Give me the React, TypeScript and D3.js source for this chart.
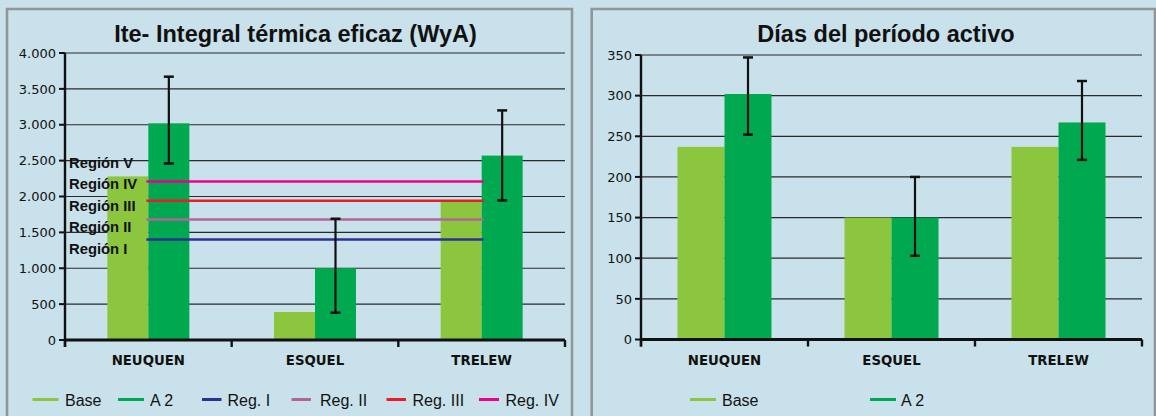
import React from "react";
import * as d3 from "d3";

// ---------- data ----------
const categories = ["NEUQUEN", "ESQUEL", "TRELEW"];
const seriesNames = ["Base", "A 2"];

// Left chart: Ite - Integral térmica eficaz (WyA)
const iteBase = [2280, 390, 1940];
const iteA2 = [3020, 1000, 2570];
const iteErrLow = [2460, 380, 1945];
const iteErrHigh = [3670, 1690, 3200];
const iteTicks = [0, 500, 1000, 1500, 2000, 2500, 3000, 3500, 4000];
const regionNames = ["Reg. I", "Reg. II", "Reg. III", "Reg. IV"];
const regionValues = [1400, 1680, 1940, 2210];
const regionLabels = ["Región V", "Región IV", "Región III", "Región II", "Región I"];
const regionLabelValues = [2400, 2110, 1800, 1500, 1200];

// Right chart: Días del período activo
const diasBase = [237, 150, 237];
const diasA2 = [302, 150, 267];
const diasErrLow = [252, 103, 221];
const diasErrHigh = [347, 200, 318];
const diasTicks = [0, 50, 100, 150, 200, 250, 300, 350];

// ---------- styles ----------
const BG = "#c8e1ea";
const BORDER = "#929697";
const C_BASE = "#8cc63f";
const C_A2 = "#00a94f";
const C_REG = ["#2e3192", "#b5649a", "#ed1c24", "#ec008c"];
const FONT = "'Liberation Sans', Arial, Helvetica, sans-serif";
const FONT_W = "'DejaVu Sans', Verdana, sans-serif";

type ChartProps = {
  title: string;
  titleX: number;
  x0: number;
  x1: number;
  y0: number;
  y1: number;
  maxV: number;
  ticks: number[];
  fmt: (v: number) => string;
  base: number[];
  a2: number[];
  errLow: number[];
  errHigh: number[];
  groupW: number;
  overlay?: (x: d3.ScaleBand<string>, y: d3.ScaleLinear<number, number>) => React.ReactNode;
};

function BarChart(p: ChartProps) {
  const x = d3.scaleBand<string>().domain(categories).range([p.x0, p.x1]).padding(0);
  const y = d3.scaleLinear().domain([0, p.maxV]).range([p.y0, p.y1]);
  const sub = d3.scaleBand<string>().domain(seriesNames).range([-p.groupW / 2, p.groupW / 2]).padding(0);
  const series = [p.base, p.a2];
  const colors = [C_BASE, C_A2];
  const boundaries = [...categories.map((c) => x(c) as number), p.x1];
  return (
    <g>
      <text x={p.titleX} y={41.5} textAnchor="middle" fontFamily={FONT} fontWeight="bold" fontSize={23.5} fill="#111">
        {p.title}
      </text>
      {p.ticks.filter((t) => t > 0).map((t) => (
        <line key={"g" + t} x1={p.x0} x2={p.x1} y1={y(t)} y2={y(t)} stroke="#2a2a2a" strokeWidth={1.2} />
      ))}
      {p.ticks.map((t) => (
        <g key={"t" + t}>
          <line x1={p.x0 - 6} x2={p.x0} y1={y(t)} y2={y(t)} stroke="#111" strokeWidth={2} />
          <text x={p.x0 - 9} y={y(t)} dy="0.36em" textAnchor="end" fontFamily={FONT_W} fontSize={13} fill="#111">
            {p.fmt(t)}
          </text>
        </g>
      ))}
      {categories.map((c, i) => {
        const cx = (x(c) as number) + x.bandwidth() / 2;
        return series.map((s, j) => (
          <rect
            key={c + j}
            x={cx + (sub(seriesNames[j]) as number)}
            width={sub.bandwidth()}
            y={y(s[i])}
            height={p.y0 - y(s[i])}
            fill={colors[j]}
          />
        ));
      })}
      {p.overlay ? p.overlay(x, y) : null}
      {categories.map((c, i) => {
        const cx = (x(c) as number) + x.bandwidth() / 2 + (sub("A 2") as number) + sub.bandwidth() / 2;
        return (
          <g key={"e" + c} stroke="#111">
            <line x1={cx} x2={cx} y1={y(p.errLow[i])} y2={y(p.errHigh[i])} strokeWidth={2.2} />
            <line x1={cx - 5} x2={cx + 5} y1={y(p.errLow[i])} y2={y(p.errLow[i])} strokeWidth={2.5} />
            <line x1={cx - 5} x2={cx + 5} y1={y(p.errHigh[i])} y2={y(p.errHigh[i])} strokeWidth={2.5} />
          </g>
        );
      })}
      <line x1={p.x0} x2={p.x0} y1={y(p.maxV)} y2={p.y0 + 7} stroke="#111" strokeWidth={2.4} />
      <line x1={p.x0} x2={p.x1} y1={p.y0} y2={p.y0} stroke="#111" strokeWidth={2.8} />
      {boundaries.map((b, i) => (
        <line key={"b" + i} x1={b} x2={b} y1={p.y0} y2={p.y0 + 7} stroke="#111" strokeWidth={2.4} />
      ))}
      {categories.map((c) => (
        <text
          key={"c" + c}
          x={(x(c) as number) + x.bandwidth() / 2}
          y={365}
          textAnchor="middle"
          fontFamily={FONT_W}
          fontWeight="bold"
          fontSize={13.3}
          fill="#111"
        >
          {c}
        </text>
      ))}
    </g>
  );
}

function regionOverlay(x: d3.ScaleBand<string>, y: d3.ScaleLinear<number, number>) {
  const xs = (x(categories[0]) as number) + x.bandwidth() / 2;
  const xe = (x(categories[categories.length - 1]) as number) + x.bandwidth() / 2;
  return (
    <g>
      {regionValues.map((v, i) => (
        <line key={"r" + i} x1={xs - 2} x2={xe + 2} y1={y(v)} y2={y(v)} stroke={C_REG[i]} strokeWidth={2.4} />
      ))}
      {regionLabels.map((l, i) => (
        <text key={"rl" + i} x={69} y={y(regionLabelValues[i])} fontFamily={FONT} fontWeight="bold" fontSize={14.8} fill="#111">
          {l}
        </text>
      ))}
    </g>
  );
}

const fmtDot = (v: number) => d3.format(",")(v).replace(/,/g, ".");

export default function App() {
  const legendY = 399.5;
  const textY = 405.5;
  const leftLegend = [
    { name: "Base", color: C_BASE, sx: 32.5, sw: 26, tx: 65 },
    { name: "A 2", color: C_A2, sx: 118, sw: 26, tx: 150 },
    { name: regionNames[0], color: C_REG[0], sx: 202, sw: 19.5, tx: 227.5 },
    { name: regionNames[1], color: C_REG[1], sx: 291.5, sw: 19.5, tx: 320 },
    { name: regionNames[2], color: C_REG[2], sx: 386.5, sw: 19.5, tx: 412.5 },
    { name: regionNames[3], color: C_REG[3], sx: 479, sw: 20, tx: 505.5 },
  ];
  const rightLegend = [
    { name: "Base", color: C_BASE, sx: 690, sw: 26, tx: 722 },
    { name: "A 2", color: C_A2, sx: 870, sw: 26, tx: 901 },
  ];
  return (
    <svg
      width={1156}
      height={416}
      style={{ position: "absolute", left: 0, top: 0, display: "block" }}
      xmlns="http://www.w3.org/2000/svg"
    >
      <rect x={0} y={0} width={1156} height={416} fill={BG} />
      <path d="M7,420 V9 H572 V420" fill="none" stroke={BORDER} strokeWidth={2.6} />
      <path d="M591.7,420 V9 H1155 V420" fill="none" stroke={BORDER} strokeWidth={2.6} />

      <BarChart
        title="Ite- Integral térmica eficaz (WyA)"
        titleX={295.5}
        x0={65}
        x1={565}
        y0={340}
        y1={53}
        maxV={4000}
        ticks={iteTicks}
        fmt={fmtDot}
        base={iteBase}
        a2={iteA2}
        errLow={iteErrLow}
        errHigh={iteErrHigh}
        groupW={82}
        overlay={regionOverlay}
      />

      <BarChart
        title="Días del período activo"
        titleX={886}
        x0={641}
        x1={1142}
        y0={339.5}
        y1={55}
        maxV={350}
        ticks={diasTicks}
        fmt={(v) => String(v)}
        base={diasBase}
        a2={diasA2}
        errLow={diasErrLow}
        errHigh={diasErrHigh}
        groupW={94}
      />

      {[...leftLegend, ...rightLegend].map((l, i) => (
        <g key={"lg" + i}>
          <line x1={l.sx} x2={l.sx + l.sw} y1={legendY} y2={legendY} stroke={l.color} strokeWidth={3} />
          <text x={l.tx} y={textY} fontFamily={FONT} fontSize={16} fill="#111">
            {l.name}
          </text>
        </g>
      ))}
    </svg>
  );
}
